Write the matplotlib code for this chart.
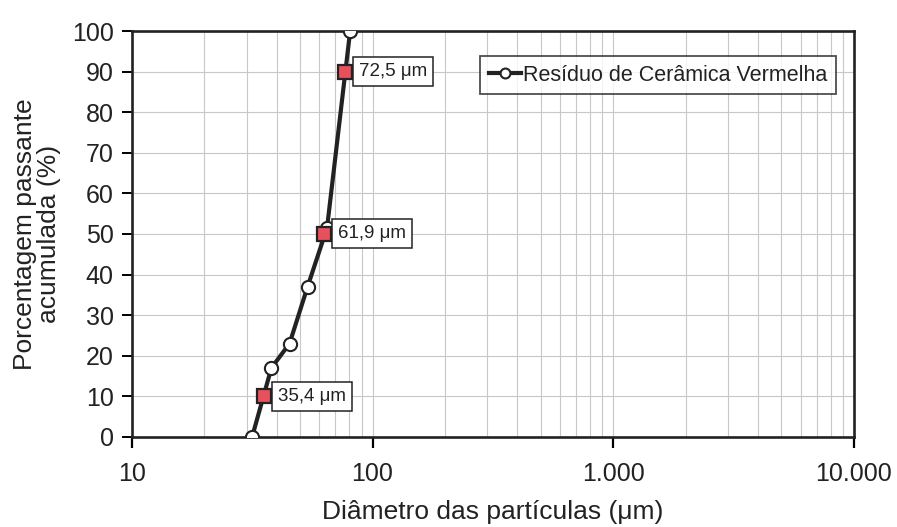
import matplotlib
matplotlib.use("Agg")
import matplotlib.pyplot as plt
from matplotlib.ticker import FixedLocator, LogLocator, NullFormatter

plt.rcParams["font.family"] = ["Liberation Sans", "DejaVu Sans"]

# curve (diameter in um, cumulative passing in %)
diameter = [31.6, 38.0, 45.2, 53.7, 64.7, 80.7]
passing = [0, 17, 23, 37, 51.5, 100]

# characteristic diameters (D10, D50, D90) as drawn
char_x = [35.3, 63.0, 77.0]
char_y = [10, 50, 90]
char_labels = ["35,4 μm", "61,9 μm", "72,5 μm"]

x_ticks = [10, 100, 1000, 10000]
x_tick_labels = ["10", "100", "1.000", "10.000"]
y_ticks = list(range(0, 101, 10))

fig = plt.figure(figsize=(8.97, 5.27), dpi=100)
ax = fig.add_axes([0.147, 0.171, 0.805, 0.770])

ax.plot(diameter, passing, color="#222222", lw=3.0, marker="o", ms=9.5,
        mfc="white", mec="#222222", mew=1.5, zorder=3,
        label="Resíduo de Cerâmica Vermelha")
ax.plot(char_x, char_y, ls="none", marker="s", ms=9.5, mfc="#e8505b",
        mec="#222222", mew=1.6, zorder=4)

for x, y, txt in zip(char_x, char_y, char_labels):
    ax.annotate(txt, (x, y), xytext=(10, 0), textcoords="offset points",
                ha="left", va="center", fontsize=13.5, color="#222222",
                bbox=dict(boxstyle="square,pad=0.32", fc="white", ec="#222222", lw=1.1),
                zorder=5)

ax.set_xscale("log")
ax.set_xlim(10, 10000)
ax.set_ylim(0, 100)
ax.xaxis.set_major_locator(FixedLocator(x_ticks))
ax.set_xticklabels(x_tick_labels)
ax.xaxis.set_minor_locator(LogLocator(base=10, subs=range(2, 10)))
ax.xaxis.set_minor_formatter(NullFormatter())
ax.set_yticks(y_ticks)

ax.grid(True, which="both", axis="x", color="#c8c8c8", lw=0.8)
ax.grid(True, which="major", axis="y", color="#c8c8c8", lw=0.8)
ax.set_axisbelow(True)

ax.tick_params(axis="x", which="major", direction="out", length=8, width=1.6,
               labelsize=18, pad=10, labelcolor="#222222")
ax.tick_params(axis="x", which="minor", length=0)
ax.tick_params(axis="y", direction="out", length=7, width=1.4, labelsize=18, pad=6,
               labelcolor="#222222")
for s in ax.spines.values():
    s.set_color("#222222")
    s.set_linewidth(1.9)

ax.set_xlabel("Diâmetro das partículas (μm)", fontsize=19, color="#222222", labelpad=10)
ax.set_ylabel("Porcentagem passante\nacumulada (%)", fontsize=19, color="#222222",
              labelpad=8, linespacing=1.0)

leg = ax.legend(loc="upper right", bbox_to_anchor=(0.99, 0.965), fontsize=15.5,
                frameon=True, fancybox=False, handlelength=1.5, handletextpad=0.1,
                borderpad=0.4, markerscale=0.75)
leg.get_frame().set_edgecolor("#222222")
leg.get_frame().set_linewidth(1.3)
for t in leg.get_texts():
    t.set_color("#222222")

fig.savefig("out.png", dpi=100)
